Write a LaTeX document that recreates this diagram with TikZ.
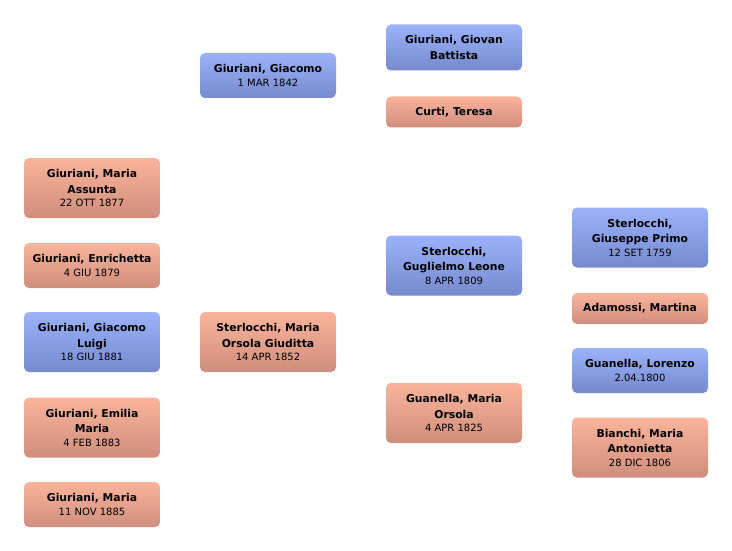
\documentclass[tikz,border=0pt]{standalone}
\usepackage{fontspec}
\setmainfont{DejaVu Sans}
\definecolor{mtop}{RGB}{155,178,250}
\definecolor{mbot}{RGB}{118,138,205}
\definecolor{ftop}{RGB}{250,180,155}
\definecolor{fbot}{RGB}{207,142,125}
\newcommand{\dt}[1]{{\fontsize{10}{12}\selectfont\mdseries #1}}
\tikzset{
  person/.style={rounded corners=5pt, inner sep=0pt, align=center,
    minimum width=136pt, font=\fontsize{10.8}{15.5}\selectfont\bfseries},
  male/.style={person, top color=mtop, bottom color=mbot},
  fem/.style={person, top color=ftop, bottom color=fbot},
  h60/.style={minimum height=60pt},
  h45/.style={minimum height=45pt},
  h46/.style={minimum height=46pt},
  h32/.style={minimum height=31pt},
}
\begin{document}
\begin{tikzpicture}[x=1pt,y=-1pt]
\useasboundingbox (0,0) rectangle (732,551);
% column 1
\node[fem,h60]  (a1) at (92,188)   {Giuriani, Maria\\Assunta\\[-2pt]\dt{22 OTT 1877}};
\node[fem,h45]  (a2) at (92,265.5) {Giuriani, Enrichetta\\[-2pt]\dt{4 GIU 1879}};
\node[male,h60] (a3) at (92,342)   {Giuriani, Giacomo\\Luigi\\[-2pt]\dt{18 GIU 1881}};
\node[fem,h60]  (a4) at (92,427.5) {Giuriani, Emilia\\Maria\\[-2pt]\dt{4 FEB 1883}};
\node[fem,h45]  (a5) at (92,504.5) {Giuriani, Maria\\[-2pt]\dt{11 NOV 1885}};
% column 2
\node[male,h45] (b1) at (268,75.5) {Giuriani, Giacomo\\[-2pt]\dt{1 MAR 1842}};
\node[fem,h60]  (b2) at (268,342)  {Sterlocchi, Maria\\Orsola Giuditta\\[-2pt]\dt{14 APR 1852}};
% column 3
\node[male,h46] (c1) at (454,47.5) {Giuriani, Giovan\\Battista};
\node[fem,h32]  (c2) at (454,112)  {Curti, Teresa};
\node[male,h60] (c3) at (454,265.5){Sterlocchi,\\Guglielmo Leone\\[-2pt]\dt{8 APR 1809}};
\node[fem,h60]  (c4) at (454,413)  {Guanella, Maria\\Orsola\\[-2pt]\dt{4 APR 1825}};
% column 4
\node[male,h60] (d1) at (640,237.5){Sterlocchi,\\Giuseppe Primo\\[-2pt]\dt{12 SET 1759}};
\node[fem,h32]  (d2) at (640,308.5){Adamossi, Martina};
\node[male,h45] (d3) at (640,370.5){Guanella, Lorenzo\\[-2pt]\dt{2.04.1800}};
\node[fem,h60]  (d4) at (640,447.5){Bianchi, Maria\\Antonietta\\[-2pt]\dt{28 DIC 1806}};
\end{tikzpicture}
\end{document}
